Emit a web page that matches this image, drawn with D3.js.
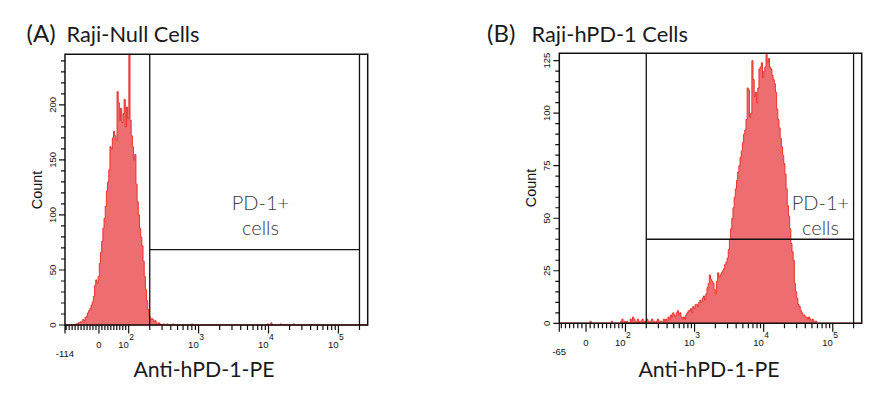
<!DOCTYPE html>
<html>
<head>
<meta charset="utf-8">
<script src="https://cdn.jsdelivr.net/npm/d3@7"></script>
<style>
  body { margin: 0; background: #fff; }
  svg { display: block; }
</style>
</head>
<body>
<div id="chart"></div>
<script>
// ---- data ----
// histogram counts per display channel (256 channels across the x axis)
const startA = 9;
const countsA = [1, 1, 2, 2, 3, 3, 5, 4, 7, 8, 11, 13, 15, 18, 21, 26, 36, 41, 38, 44,
  56, 66, 76, 88, 97, 108, 122, 130, 141, 162, 160, 170, 176, 172, 168, 212, 202, 186, 197, 184,
  192, 205, 180, 198, 188, 246, 186, 172, 162, 150, 155, 128, 112, 100, 88, 80, 72, 58, 44, 32,
  22, 14, 8, 5, 6, 5, 3, 4, 2, 1, 2, 1];
const extraA = [[83, 1], [86, 1], [91, 1], [107, 1], [171, 1], [174, 2], [182, 1], [193, 1]];

const startB = 52;
const countsB = [1, 2, 0, 1, 0, 1, 0, 0, 2, 1, 3, 2, 1, 0, 2, 0, 1, 1, 2, 0,
  1, 1, 2, 1, 0, 1, 2, 1, 1, 0, 1, 2, 1, 1, 1, 0, 2, 1, 2, 1,
  3, 2, 4, 3, 5, 4, 3, 5, 6, 4, 5, 3, 2, 3, 2, 4, 5, 6, 6, 7,
  5, 8, 7, 9, 9, 8, 10, 11, 10, 12, 13, 11, 14, 17, 19, 23, 21, 20, 19, 16,
  14, 20, 24, 22, 23, 24, 25, 26, 28, 29, 31, 35, 40, 45, 50, 55, 60, 64, 68, 72,
  75, 79, 82, 86, 90, 92, 97, 112, 111, 98, 100, 125, 116, 108, 110, 105, 112, 121, 122, 124,
  117, 120, 122, 128, 124, 126, 122, 121, 118, 116, 114, 110, 102, 97, 93, 88, 84, 80, 76, 71,
  64, 56, 51, 45, 38, 34, 30, 19, 15, 12, 9, 8, 6, 5, 4, 4, 3, 3, 2, 3,
  2, 1, 2, 1, 1, 1];
const extraB = [[26, 1], [44, 1]];

const xDomainA = [-114, 262144];
const xDomainB = [-65, 262144];
const yDomainA = [0, 246];
const yDomainB = [0, 128.5];
const gateXA = [200, 200000], gateYA = 68.5;
const gateXB = [200, 200000], gateYB = 40;

const yMajorA = [0, 50, 100, 150, 200];
const yMajorB = [0, 25, 50, 75, 100, 125];
const xMajor = [0, 100, 1000, 10000, 100000];
const xMajorLabels = ["0", "2", "3", "4", "5"];

const titles = [["(A)", "Raji-Null Cells"], ["(B)", "Raji-hPD-1 Cells"]];
const xTitle = "Anti-hPD-1-PE";
const yTitle = "Count";
const gateText = ["PD-1+", "cells"];

// ---- layout ----
const W = 895, H = 394;
const svg = d3.select("#chart").append("svg").attr("width", W).attr("height", H);

function drawPanel(p) {
  const g = svg.append("g");
  const nChan = 256;

  // logicle-like transform: linear below L, log10 above
  const tf = v => v >= p.L ? Math.log10(v) : Math.log10(p.L) + (v - p.L) / (p.L * Math.LN10);
  const chan = d3.scaleLinear().domain([0, nChan]).range([p.left, p.right]);
  const tScale = d3.scaleLinear().domain([tf(p.xDomain[0]), tf(p.xDomain[1])]).range([p.left, p.right]);
  const x = v => tScale(tf(v));
  const y = d3.scaleLinear().domain(p.yDomain).range([p.bottom, p.top]);

  // bins
  const bins = new Array(nChan + 1).fill(0);
  p.counts.forEach((c, i) => { bins[p.start + i] = c; });
  p.extra.forEach(([c, n]) => { bins[c] = n; });

  const area = d3.area()
    .x((d, i) => chan(i))
    .y0(y(0))
    .y1(d => y(d))
    .curve(d3.curveStepAfter);
  g.append("path").datum(bins)
    .attr("d", area)
    .attr("fill", "#ee6d70")
    .attr("stroke", "#e52a22")
    .attr("stroke-width", 0.9);

  // frame
  const lw = 1.5;
  g.append("path")
    .attr("d", `M${p.left},${p.top}H${p.right}V${p.bottom}H${p.left}Z`)
    .attr("fill", "none").attr("stroke", "#111").attr("stroke-width", lw);

  // gate
  const gx0 = x(p.gateX[0]), gx1 = x(p.gateX[1]), gy = y(p.gateY);
  g.append("path")
    .attr("d", `M${gx0},${p.top}V${p.bottom}M${gx1},${p.top}V${p.bottom}M${gx0},${gy}H${gx1}`)
    .attr("fill", "none").attr("stroke", "#111").attr("stroke-width", 1.3);

  // x ticks
  const minor = [];
  for (let v = Math.ceil(p.xDomain[0] / 10) * 10; v < 100; v += 10) if (v !== 0) minor.push(v);
  for (let k = 2; k <= 5; k++) for (let m = 2; m <= 9; m++) {
    const v = m * Math.pow(10, k);
    if (v < p.xDomain[1]) minor.push(v);
  }
  const tickPath = minor.map(v => `M${x(v)},${p.bottom}v5`).join("") +
    xMajor.map(v => `M${x(v)},${p.bottom}v8.5`).join("") +
    `M${p.left},${p.bottom}v8.5`;
  g.append("path").attr("d", tickPath).attr("stroke", "#111").attr("stroke-width", 1.2);

  const tickFont = "'Liberation Sans', Arial, sans-serif";
  xMajor.forEach((v, i) => {
    const t = g.append("text")
      .attr("font-family", tickFont).attr("font-size", 9.5).attr("fill", "#111")
      .attr("y", p.bottom + 23);
    if (v === 0) {
      t.attr("x", x(v)).attr("text-anchor", "middle").text("0");
    } else {
      t.attr("x", x(v) - 10.5).attr("text-anchor", "start");
      t.append("tspan").text("10");
      t.append("tspan").attr("font-size", 8.5).attr("dx", 0.5).attr("dy", -8.5).text(xMajorLabels[i]);
    }
  });
  g.append("text")
    .attr("font-family", tickFont).attr("font-size", 9.5).attr("fill", "#111")
    .attr("x", p.left).attr("y", p.bottom + 32).attr("text-anchor", "middle")
    .text(p.xDomain[0]);

  // y ticks
  const yMinor = d3.range(0, p.yDomain[1], p.yMinorStep);
  g.append("path")
    .attr("d", yMinor.map(v => `M${p.left},${y(v)}h-4`).join("") +
      p.yMajor.map(v => `M${p.left},${y(v)}h-6`).join(""))
    .attr("stroke", "#111").attr("stroke-width", 1.2);
  p.yMajor.forEach(v => {
    g.append("text")
      .attr("font-family", tickFont).attr("font-size", 9.5).attr("fill", "#111")
      .attr("text-anchor", "middle")
      .attr("transform", `translate(${p.left - 9},${y(v)}) rotate(-90)`)
      .text(v);
  });

  // axis titles
  g.append("text")
    .attr("font-family", tickFont).attr("font-size", 14.5).attr("fill", "#111")
    .attr("text-anchor", "middle")
    .attr("transform", `translate(${p.left - 23.5},${p.countY}) rotate(-90)`)
    .text(yTitle);
  g.append("text")
    .attr("font-family", "Lato, 'Open Sans', sans-serif").attr("font-size", 21.3).attr("fill", "#1a1a1a")
    .attr("text-anchor", "middle")
    .attr("x", p.xTitleX).attr("y", 377)
    .text(xTitle);

  // panel title
  g.append("text")
    .attr("font-family", "Lato, 'Open Sans', sans-serif").attr("font-size", 24).attr("fill", "#1a1a1a")
    .attr("x", p.titleX[0]).attr("y", 42).text(p.title[0]);
  g.append("text")
    .attr("font-family", "Lato, 'Open Sans', sans-serif").attr("font-size", 21.8).attr("fill", "#1a1a1a")
    .attr("x", p.titleX[1]).attr("y", 42).text(p.title[1]);

  // gate label
  gateText.forEach((s, i) => {
    g.append("text")
      .attr("font-family", "Lato, 'Open Sans', sans-serif").attr("font-weight", 300)
      .attr("font-size", 20).attr("fill", "#3a3a3a")
      .attr("text-anchor", "middle")
      .attr("x", p.gateTextX).attr("y", 210 + i * 25)
      .text(s);
  });
}

drawPanel({
  left: 65, right: 367.7, top: 54.3, bottom: 325, L: 102,
  xDomain: xDomainA, yDomain: yDomainA, yMajor: yMajorA, yMinorStep: 10,
  start: startA, counts: countsA, extra: extraA,
  gateX: gateXA, gateY: gateYA,
  title: titles[0], titleX: [26.5, 66.5], xTitleX: 204, countY: 190, gateTextX: 260.5
});
drawPanel({
  left: 559.3, right: 861.7, top: 53.3, bottom: 323.3, L: 73,
  xDomain: xDomainB, yDomain: yDomainB, yMajor: yMajorB, yMinorStep: 5,
  start: startB, counts: countsB, extra: extraB,
  gateX: gateXB, gateY: gateYB,
  title: titles[1], titleX: [487, 531.5], xTitleX: 709, countY: 188, gateTextX: 820.5
});
</script>
</body>
</html>
